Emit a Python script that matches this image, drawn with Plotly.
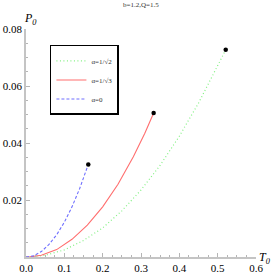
import plotly.graph_objects as go

# data
T_green = [0.0, 0.01, 0.05, 0.10, 0.15, 0.20, 0.25, 0.30, 0.35, 0.40, 0.45, 0.50, 0.521]
P_green = [0.0, 0.00003, 0.0006, 0.0025, 0.0058, 0.0102, 0.0162, 0.0235, 0.0322, 0.0424, 0.0540, 0.0668, 0.0727]

T_red = [0.0, 0.01, 0.04, 0.08, 0.12, 0.16, 0.20, 0.24, 0.28, 0.31, 0.333]
P_red = [0.0, 0.00004, 0.0006, 0.0026, 0.0062, 0.0112, 0.0176, 0.0255, 0.0352, 0.0434, 0.0505]

T_blue = [0.0, 0.01, 0.02, 0.04, 0.06, 0.08, 0.10, 0.12, 0.14, 0.1625]
P_blue = [0.0, 0.0001, 0.0004, 0.0019, 0.0044, 0.0078, 0.0122, 0.0176, 0.0240, 0.0325]

names = ["α=1/√2", "α=1/√3", "α=0"]
title_text = "b=1.2,Q=1.5"
x_ticks = [0.0, 0.1, 0.2, 0.3, 0.4, 0.5, 0.6]
x_ticktext = ["0.0", "0.1", "0.2", "0.3", "0.4", "0.5", "0.6"]
y_ticks = [0.02, 0.04, 0.06, 0.08]
y_ticktext = ["0.02", "0.04", "0.06", "0.08"]

serif = "Liberation Serif"

fig = go.Figure()
fig.add_trace(go.Scatter(x=T_green, y=P_green, mode="lines", name=names[0],
                         line=dict(color="rgb(130,240,130)", width=1.2, dash="1px,2.5px")))
fig.add_trace(go.Scatter(x=T_red, y=P_red, mode="lines", name=names[1],
                         line=dict(color="rgb(255,110,110)", width=1.1, dash="solid")))
fig.add_trace(go.Scatter(x=T_blue, y=P_blue, mode="lines", name=names[2],
                         line=dict(color="rgb(110,110,255)", width=1.1, dash="3px,2px")))
# endpoints
fig.add_trace(go.Scatter(x=[T_green[-1], T_red[-1], T_blue[-1]],
                         y=[P_green[-1], P_red[-1], P_blue[-1]],
                         mode="markers", marker=dict(color="black", size=4.5),
                         showlegend=False))

axis_common = dict(showgrid=False, zeroline=False, showline=True, automargin=False,
                   linecolor="#c4c4c4", linewidth=1.5, ticks="inside",
                   tickcolor="#b5b5b5", ticklen=4, tickwidth=1,
                   tickfont=dict(family=serif, size=11, color="black"))

fig.update_layout(
    width=273, height=275,
    margin=dict(l=26, r=17, t=29, b=18, autoexpand=False),
    plot_bgcolor="white", paper_bgcolor="white",
    xaxis=dict(range=[0, 0.6], tickmode="array", tickvals=x_ticks, ticktext=x_ticktext,
               minor=dict(tickmode="linear", tick0=0, dtick=0.025, ticklen=2,
                          tickcolor="#b5b5b5", ticks="inside"),
               **axis_common),
    yaxis=dict(range=[0, 0.08], tickmode="array", tickvals=y_ticks, ticktext=y_ticktext,
               minor=dict(tickmode="linear", tick0=0, dtick=0.005, ticklen=2,
                          tickcolor="#b5b5b5", ticks="inside"),
               **axis_common),
    showlegend=True,
    legend=dict(x=0.104, y=0.93, xanchor="left", yanchor="top",
                bordercolor="black", borderwidth=1.5, bgcolor="white",
                font=dict(family=serif, size=7, color="#333333"),
                tracegroupgap=0, itemwidth=30),
    annotations=[
        dict(text=title_text, xref="paper", yref="paper", x=0.5, y=1.0, yshift=24,
             xanchor="center", yanchor="middle", showarrow=False,
             font=dict(family=serif, size=7, color="#333333")),
        dict(text="<i>P<sub>0</sub></i>", xref="paper", yref="paper", x=0.0, y=1.0,
             xanchor="left", yanchor="bottom", xshift=-4, yshift=0, showarrow=False,
             font=dict(family=serif, size=12, color="black")),
        dict(text="<i>T<sub>0</sub></i>", xref="paper", yref="paper", x=1.0, y=0.0,
             xanchor="left", yanchor="middle", xshift=1, yshift=-1, showarrow=False,
             font=dict(family=serif, size=12, color="black")),
    ],
)

fig.write_html("out.html", config={"displayModeBar": False},
               post_script="document.body.style.margin='0';document.body.style.overflow='hidden';")
